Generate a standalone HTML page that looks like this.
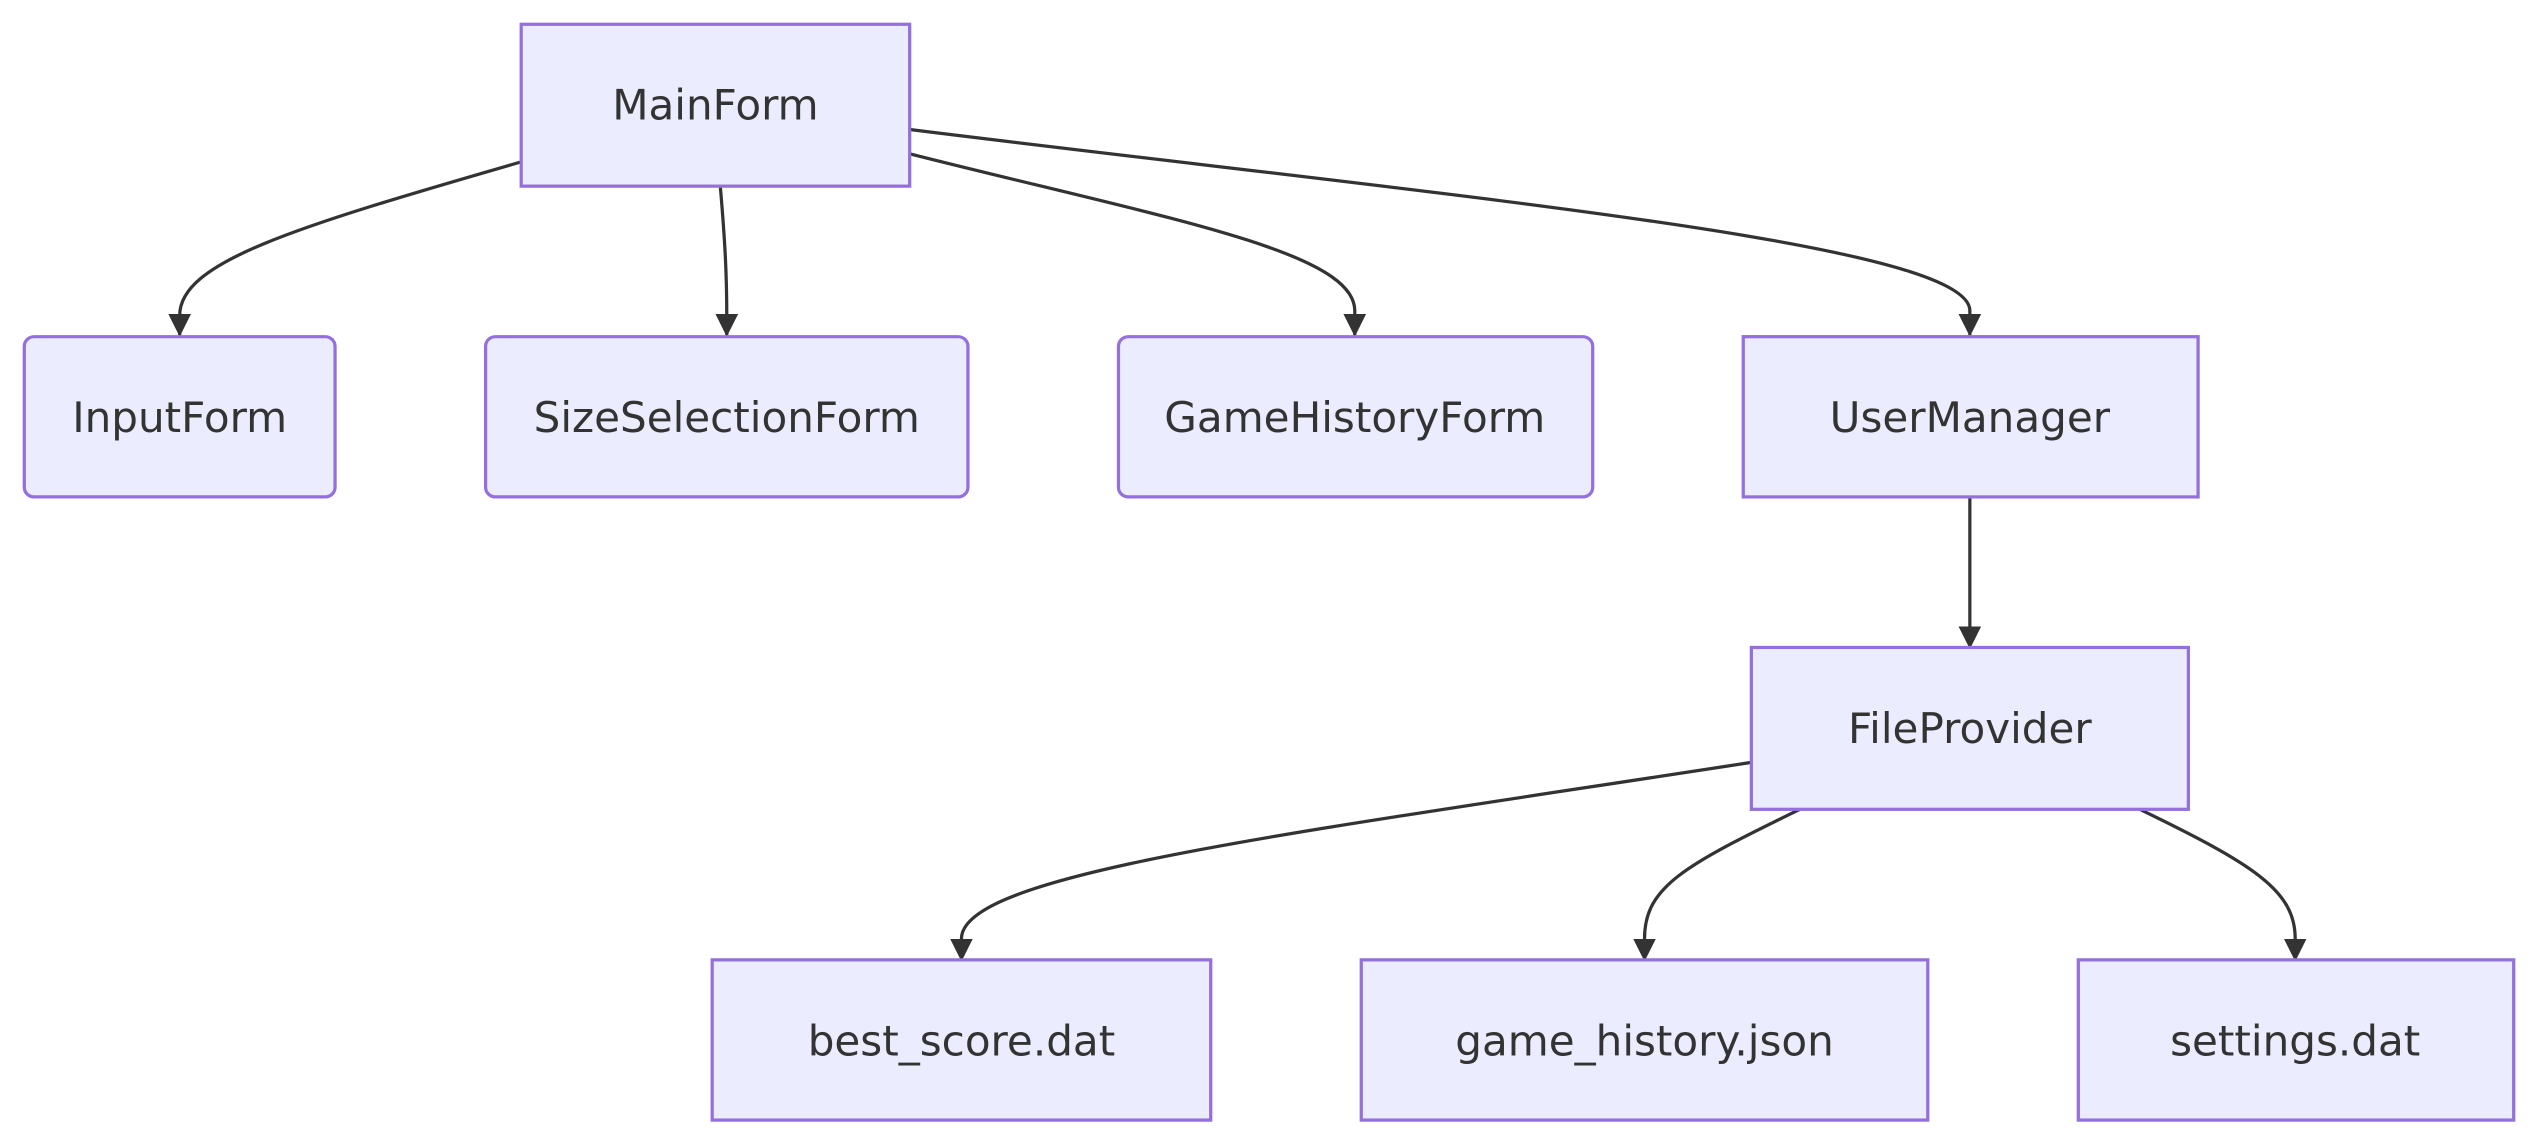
<!DOCTYPE html>
<html><head><meta charset="utf-8"><style>
html,body{margin:0;padding:0;background:#fff;}
svg{display:block;}
text{font-family:"DejaVu Sans","Liberation Sans",sans-serif;font-size:26px;fill:#333;text-anchor:middle;dominant-baseline:central;}
.n{fill:#ECECFF;stroke:#9370DB;stroke-width:2;}
.e{fill:none;stroke:#333;stroke-width:2;}
</style></head><body>
<svg width="2538" height="1146" viewBox="0 0 1568 708" xmlns="http://www.w3.org/2000/svg">
<defs><marker id="a" viewBox="0 0 10 10" refX="10" refY="5" markerWidth="7" markerHeight="7" markerUnits="userSpaceOnUse" orient="auto">
</marker>
<marker id="ar" viewBox="0 0 14 14" refX="13" refY="7" markerWidth="14" markerHeight="14" markerUnits="userSpaceOnUse" orient="auto"><path d="M0,0 L14,7 L0,14 z" fill="#333"/></marker></defs>
<path class="e" marker-end="url(#ar)" d="M322,100 C180,141 111,162 111,195 L111,207"/>
<path class="e" marker-end="url(#ar)" d="M445,115 C448,150 449,170 449,195 L449,207"/>
<path class="e" marker-end="url(#ar)" d="M562,95 C720,135 837,155 837,192 L837,207"/>
<path class="e" marker-end="url(#ar)" d="M562,80 C900,122 1217,150 1217,192 L1217,207"/>
<path class="e" marker-end="url(#ar)" d="M1217,307 L1217,400"/>
<path class="e" marker-end="url(#ar)" d="M1082,471 C790,516 594,540 594,580 L594,593"/>
<path class="e" marker-end="url(#ar)" d="M1112,500 C1040,535 1016,548 1016,580 L1016,593"/>
<path class="e" marker-end="url(#ar)" d="M1322,500 C1392,534 1418,550 1418,580 L1418,593"/>
<rect class="n" x="322" y="15" width="240" height="100"/><text x="442" y="65">MainForm</text>
<rect class="n" x="15" y="208" width="192" height="99" rx="6"/><text x="111" y="258">InputForm</text>
<rect class="n" x="300" y="208" width="298" height="99" rx="6"/><text x="449" y="258">SizeSelectionForm</text>
<rect class="n" x="691" y="208" width="293" height="99" rx="6"/><text x="837" y="258">GameHistoryForm</text>
<rect class="n" x="1077" y="208" width="281" height="99"/><text x="1217" y="258">UserManager</text>
<rect class="n" x="1082" y="400" width="270" height="100"/><text x="1217" y="450">FileProvider</text>
<rect class="n" x="440" y="593" width="308" height="99"/><text x="594" y="643">best_score.dat</text>
<rect class="n" x="841" y="593" width="350" height="99"/><text x="1016" y="643">game_history.json</text>
<rect class="n" x="1284" y="593" width="269" height="99"/><text x="1418" y="643">settings.dat</text>
</svg>
</body></html>
